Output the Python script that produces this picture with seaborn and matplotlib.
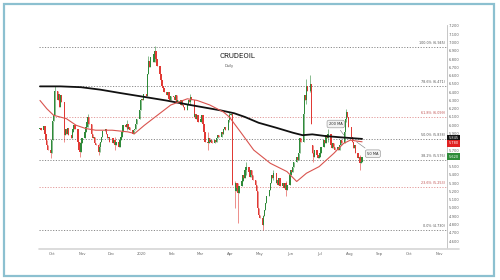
import numpy as np
import pandas as pd
import matplotlib
matplotlib.use("Agg")
import matplotlib.pyplot as plt
import matplotlib.transforms as mtransforms
from matplotlib.patches import Rectangle
from matplotlib.lines import Line2D
import seaborn as sns

# ---------------- data ----------------
start_date = "2019-09-19"
first_open = 5.95
close_sep = [5.97, 5.94, 5.99, 5.90, 5.82, 5.76, 5.70, 5.66]
close_oct = [5.82, 6.05, 6.12, 6.42, 6.30, 6.38, 6.22, 6.36, 6.28, 5.88, 5.95, 5.90, 5.97, 5.88, 5.84,
             5.92, 5.96, 6.00, 5.95, 5.80, 5.70, 5.68, 5.78]
close_nov = [5.85, 5.92, 5.98, 6.04, 6.10, 6.02, 5.90, 5.84, 5.86, 5.78, 5.76, 5.68, 5.74, 5.80, 5.86,
             5.93, 5.96, 5.90, 5.84, 5.86, 5.80]
close_dec = [5.84, 5.78, 5.82, 5.76, 5.80, 5.74, 5.82, 5.86, 5.92, 6.00, 5.98, 6.02, 5.96, 5.98, 5.94,
             5.90, 5.94, 5.96, 6.02, 6.08, 6.18, 6.30]
close_jan = [6.32, 6.30, 6.38, 6.35, 6.62, 6.78, 6.70, 6.82, 6.76, 6.86, 6.90, 6.80, 6.72, 6.62, 6.55,
             6.48, 6.45, 6.40, 6.36, 6.40, 6.32, 6.30, 6.35]
close_feb = [6.34, 6.30, 6.36, 6.28, 6.30, 6.25, 6.30, 6.24, 6.22, 6.18, 6.24, 6.30, 6.28, 6.34, 6.30,
             6.10, 6.14, 6.08, 6.12, 6.04]
close_mar = [6.08, 6.12, 6.02, 5.92, 5.80, 5.78, 5.84, 5.80, 5.82, 5.78, 5.82, 5.80, 5.84, 5.88, 5.86,
             5.92, 5.90, 5.96, 5.98, 5.94, 6.06, 6.12]
close_apr = [6.12, 6.14, 5.28, 5.20, 5.30, 5.24, 5.18, 5.26, 5.32, 5.40, 5.36, 5.46, 5.50, 5.44, 5.38,
             5.46, 5.40, 5.34, 5.28, 5.20, 5.00, 4.92]
close_may = [4.88, 4.80, 4.90, 4.98, 5.06, 5.14, 5.22, 5.30, 5.40, 5.36, 5.42, 5.30, 5.34, 5.28, 5.36,
             5.26, 5.30, 5.24, 5.30, 5.22, 5.28]
close_jun = [5.40, 5.46, 5.44, 5.50, 5.56, 5.62, 5.58, 5.66, 5.84, 5.80, 6.14, 6.36, 6.30, 6.48, 6.42,
             6.50, 6.02, 5.66, 5.62, 5.70, 5.64, 5.60]
close_jul = [5.62, 5.66, 5.74, 5.82, 5.78, 5.88, 5.84, 5.90, 5.76, 5.72, 5.78, 5.74, 5.70, 5.74, 5.70,
             5.76, 5.82, 5.78, 5.92, 6.08, 6.16, 6.10, 5.98]
close_aug = [5.86, 5.80, 5.72, 5.76, 5.66, 5.60, 5.62, 5.54, 5.56, 5.62]

# opening gaps
gap_dates = ["2020-06-24"]
gap_opens = [5.76]

# visible wick extremes
wick_dates = ["2019-09-30", "2019-10-04", "2019-10-14", "2019-10-30", "2019-11-07", "2019-11-18",
              "2019-12-05", "2019-12-17", "2020-01-08", "2020-01-15", "2020-02-20", "2020-03-09",
              "2020-03-31", "2020-04-06", "2020-04-09", "2020-04-17", "2020-05-04", "2020-05-15",
              "2020-05-28", "2020-06-18", "2020-06-22", "2020-06-25", "2020-07-10", "2020-07-29",
              "2020-08-12"]
wick_highs = [5.74, 6.48, 6.02, 5.80, 6.14, 5.78, 5.86, 6.06, 6.84, 6.96, 6.38, 5.92,
              6.16, 5.32, 5.30, 5.56, 4.92, 5.46, 5.32, 6.56, 6.61, 5.76, 5.96, 6.20, 5.64]
wick_lows = [5.60, 6.28, 5.80, 5.62, 5.98, 5.64, 5.70, 5.94, 6.66, 6.76, 6.26, 5.70,
             6.04, 5.00, 4.82, 5.40, 4.73, 5.34, 5.15, 6.26, 6.40, 5.56, 5.80, 6.04, 5.46]

ma200_dates = ["2019-09-19", "2019-10-10", "2019-10-31", "2019-11-20", "2019-12-10", "2019-12-31",
               "2020-01-26", "2020-02-20", "2020-03-22", "2020-04-05", "2020-04-16", "2020-04-30",
               "2020-05-18", "2020-06-04", "2020-06-14", "2020-06-24", "2020-07-07", "2020-07-22",
               "2020-08-14"]
ma200_vals = [6.47, 6.47, 6.46, 6.43, 6.39, 6.35, 6.30, 6.245, 6.18, 6.145, 6.10, 6.03,
              5.97, 5.91, 5.88, 5.89, 5.87, 5.855, 5.835]
ma50_dates = ["2019-09-19", "2019-09-26", "2019-10-03", "2019-10-16", "2019-10-26", "2019-11-05",
              "2019-11-15", "2019-12-02", "2019-12-18", "2019-12-25", "2020-01-04", "2020-01-15",
              "2020-01-31", "2020-02-17", "2020-02-27", "2020-03-11", "2020-03-25", "2020-03-31",
              "2020-04-12", "2020-04-25", "2020-05-12", "2020-05-29", "2020-06-08", "2020-06-18",
              "2020-07-01", "2020-07-16", "2020-07-26", "2020-08-02", "2020-08-14"]
ma50_vals = [6.30, 6.20, 6.12, 6.08, 6.00, 5.96, 5.94, 5.94, 5.92, 5.90, 6.00, 6.10,
             6.245, 6.32, 6.30, 6.245, 6.16, 6.10, 5.91, 5.70, 5.54, 5.44, 5.32, 5.42,
             5.50, 5.66, 5.78, 5.82, 5.80]

fib_low = 4.73
fib_high = 6.945
fib_ratios = [0.0, 0.236, 0.382, 0.5, 0.618, 0.786, 1.0]
fib_is_red = [False, True, False, False, True, False, False]

month_ticks = ["2019-10-01", "2019-11-01", "2019-12-01", "2020-01-01", "2020-02-01", "2020-03-01",
               "2020-04-01", "2020-05-01", "2020-06-01", "2020-07-01", "2020-08-01", "2020-09-01",
               "2020-10-01", "2020-11-01"]
month_labels = ["Oct", "Nov", "Dec", "2020", "Feb", "Mar", "Apr", "May", "Jun", "Jul", "Aug", "Sep",
                "Oct", "Nov"]
price_ticks = [round(4.6 + 0.1 * i, 1) for i in range(27)]
hidden_price_ticks = [5.6, 5.8]   # covered by the price markers in the reference

title = "CRUDEOIL"
subtitle = "Daily"

# ---------------- build table ----------------
closes = (close_sep + close_oct + close_nov + close_dec + close_jan + close_feb + close_mar +
          close_apr + close_may + close_jun + close_jul + close_aug)
dates = pd.bdate_range(start_date, periods=len(closes))
df = pd.DataFrame({"date": dates, "close": closes})
df["open"] = [first_open] + closes[:-1]
for d, o in zip(gap_dates, gap_opens):
    df.loc[df.date == pd.Timestamp(d), "open"] = o
df["high"] = df[["open", "close"]].max(axis=1)
df["low"] = df[["open", "close"]].min(axis=1)
for d, h, l in zip(wick_dates, wick_highs, wick_lows):
    m = df.date == pd.Timestamp(d)
    df.loc[m, "high"] = np.maximum(df.loc[m, "high"], h)
    df.loc[m, "low"] = np.minimum(df.loc[m, "low"], l)
df["up"] = df.close >= df.open

ma200 = pd.DataFrame({"date": pd.to_datetime(ma200_dates), "v": ma200_vals})
ma50 = pd.DataFrame({"date": pd.to_datetime(ma50_dates), "v": ma50_vals})

# ---------------- figure ----------------
sns.set_theme(style="white")
plt.rcParams['font.family'] = ['DejaVu Sans']

W, H = 500, 280
fig = plt.figure(figsize=(5, 2.8), dpi=100)
fig.patch.set_facecolor("white")
ax = fig.add_axes([39 / W, 1 - 248 / H, (447 - 39) / W, (248 - 25) / H])
ax.set_facecolor("white")

GREEN = "#2f8a3a"
RED = "#e03a35"
colors = np.where(df.up, GREEN, RED)

# fib levels
blend = mtransforms.blended_transform_factory(ax.transAxes, ax.transData)
for r, isred in zip(fib_ratios, fib_is_red):
    lvl = fib_low + r * (fib_high - fib_low)
    c = "#e39a9a" if isred else "#8a8a8a"
    ax.axhline(lvl, color=c, lw=0.7, ls=(0, (1.2, 1.6)), zorder=1)
    ax.text(0.995, lvl + 0.025, f"{r*100:.1f}% ({lvl:.3f})", transform=blend, ha="right",
            va="bottom", fontsize=2.4, color="#c05050" if isred else "#555555")

# candles
ax.vlines(df.date, df.low, df.high, colors=colors, lw=0.5, zorder=2, alpha=0.8)
body_h = (df.close - df.open).abs().clip(lower=0.012)
ax.bar(df.date, body_h, bottom=df[["open", "close"]].min(axis=1), width=1.4, color=colors,
       lw=0, zorder=3)

# moving averages
sns.lineplot(data=ma200, x="date", y="v", color="#111111", lw=1.3, ax=ax, zorder=4)
sns.lineplot(data=ma50, x="date", y="v", color="#d9544f", lw=0.8, ax=ax, zorder=4)

# annotations
box = dict(boxstyle="round,pad=0.5", fc="#f2f2f2", ec="#8a8a8a", lw=0.4)
ax.annotate("200 MA", xy=(pd.Timestamp("2020-07-28"), ma200_vals[-2]),
            xytext=(pd.Timestamp("2020-07-18"), 6.015), fontsize=2.6, ha="center", va="center",
            bbox=box, arrowprops=dict(arrowstyle="-", color="#777777", lw=0.4), zorder=6)
ax.annotate("50 MA", xy=(pd.Timestamp("2020-08-06"), ma50_vals[-2]),
            xytext=(pd.Timestamp("2020-08-25"), 5.656), fontsize=2.6, ha="center", va="center",
            bbox=box, arrowprops=dict(arrowstyle="-", color="#777777", lw=0.4), zorder=6)

# axes
ax.set_xlim(pd.Timestamp("2019-09-18"), pd.Timestamp("2020-11-09"))
ax.set_ylim(4.516, 7.212)
ax.set_xticks(pd.to_datetime(month_ticks))
ax.set_xticklabels(month_labels)
ax.yaxis.tick_right()
ax.set_yticks(price_ticks)
ax.set_yticklabels(["" if p in hidden_price_ticks else f"{p:.3f}" for p in price_ticks])
ax.tick_params(axis="both", length=0, labelsize=2.7, colors="#666666")
ax.tick_params(axis="x", pad=2.6)
ax.tick_params(axis="y", pad=1.5)
ax.set_xlabel("")
ax.set_ylabel("")
for s in ["top", "left", "bottom"]:
    ax.spines[s].set_visible(False)
ax.spines["right"].set_color("#bdbdbd")
ax.spines["right"].set_linewidth(0.6)
ax.grid(False)

# price markers on the right axis
for val, fc in [(ma200_vals[-1] + 0.01, "#111111"), (ma50_vals[-1] - 0.02, "#e02020"),
                (closes[-1], "#2e8b3a")]:
    ax.text(1.004, val, f"{val:.3f}", transform=blend, ha="left", va="center", fontsize=2.5,
            color="white", bbox=dict(boxstyle="square,pad=0.35", fc=fc, ec="none"), zorder=7,
            clip_on=False)

# title
fig.text(237.5 / W, 1 - 55.7 / H, title, ha="center", va="center", fontsize=5.6,
         color="#222222", family=["Roboto", "DejaVu Sans"])
fig.text(225 / W, 1 - 65.5 / H, subtitle, ha="left", va="center", fontsize=2.6, color="#555555")

# bottom time-axis band and outer frame
fig.add_artist(Line2D([39 / W, 459 / W], [1 - 248.5 / H] * 2, color="#d6d6d6", lw=1.2,
                      transform=fig.transFigure))
fig.add_artist(Rectangle((3.5 / W, 1 - 275.5 / H), 490.5 / W, 272 / H, transform=fig.transFigure,
                         fill=False, ec="#8cc0d0", lw=1.6))

fig.savefig("out.png", dpi=100, facecolor="white")
